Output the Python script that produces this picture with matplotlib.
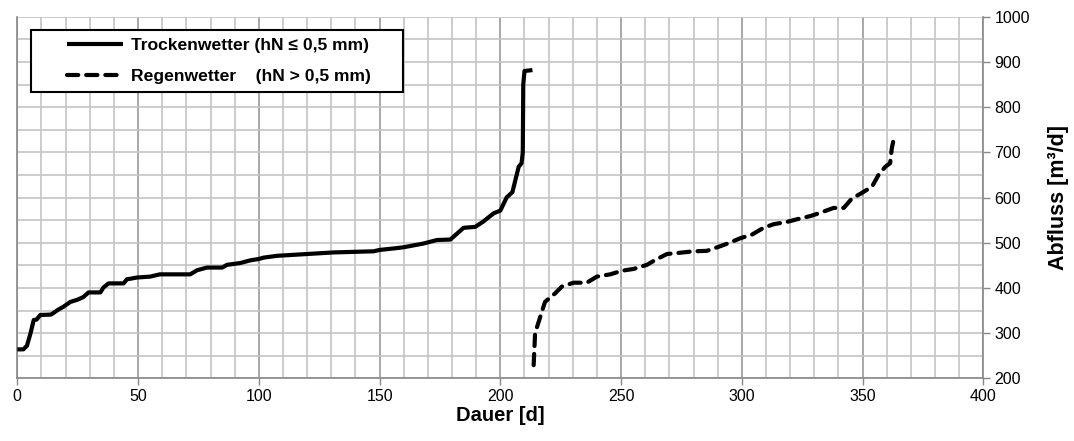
import matplotlib
matplotlib.use("Agg")
import matplotlib.pyplot as plt
from matplotlib.ticker import MultipleLocator
from matplotlib.legend_handler import HandlerLine2D

plt.rcParams['font.family'] = ['Liberation Sans', 'DejaVu Sans']

# Trockenwetter (dry weather) duration curve
dry_days = [0, 2.5, 4, 5.5, 6.8, 8, 9.5, 14, 17, 19, 22, 25, 27.4, 29.5, 34.4, 35.7,
            37.8, 44, 45.4, 49.6, 55, 59, 71.6, 74.4, 78.5, 84.8, 86.8, 92.3, 96.5,
            100, 102, 107.5, 120, 131, 147.5, 150, 157, 160, 168, 173.8, 179.3,
            184.8, 189.6, 193, 197.2, 200, 202.6, 205, 207.6, 208.8, 209.3, 209.5,
            210, 213.3]
dry_vals = [264, 264, 272, 300, 329, 330, 340, 341, 352, 358, 369, 374, 380, 390, 390,
            401, 410, 410, 419, 423, 425, 430, 430, 439, 445, 445, 451, 455, 461,
            464, 467, 471, 475, 478.5, 481, 484, 488, 490, 498, 506, 507,
            533, 535, 547, 565, 571, 600, 612, 668, 676, 700, 850, 880, 882]

# Regenwetter (wet weather) duration curve
wet_days = [213.8, 214.4, 217, 218.5, 222.7, 225.5, 230.3, 235.8, 240, 245.5, 250.4,
            255.2, 260.7, 264.2, 269, 273, 280, 285.5, 290.4, 294.5, 299.4, 304.2,
            309, 313.2, 318.7, 322.9, 328.4, 331.8, 338, 342.2, 345.6, 349, 353.9,
            356.6, 359.4, 361.4, 362.1, 363.1]
wet_vals = [229, 300, 344, 369, 388, 403, 411.5, 411.5, 425, 430, 438,
            442, 451, 462, 475, 477, 481, 482, 491, 499, 510, 518,
            533, 541, 546, 552, 559, 565, 577, 577, 598, 608, 624,
            650, 668, 676, 709, 735]

label_dry = "Trockenwetter (hN \u2264 0,5 mm)     "
label_wet = "Regenwetter    (hN > 0,5 mm)     "

fig = plt.figure(figsize=(10.74, 4.41), dpi=100)
ax = fig.add_axes([0.0161, 0.1422, 0.9156 - 0.0161, 0.962 - 0.1422])

l1, = ax.plot(dry_days, dry_vals, color='black', lw=3.0, solid_joinstyle='round',
              solid_capstyle='butt', label=label_dry, zorder=3)
l2, = ax.plot(wet_days, wet_vals, color='black', lw=3.0, linestyle=(0, (2.7, 1.9)),
              dash_capstyle='round', label=label_wet, zorder=3)

ax.set_xlim(0, 400)
ax.set_ylim(200, 1000)

ax.xaxis.set_major_locator(MultipleLocator(50))
ax.xaxis.set_minor_locator(MultipleLocator(10))
ax.yaxis.set_major_locator(MultipleLocator(100))
ax.yaxis.set_minor_locator(MultipleLocator(50))

ax.grid(which='minor', axis='both', color='#c4c4c4', lw=1.2, zorder=0)
ax.grid(which='major', axis='y', color='#c4c4c4', lw=1.2, zorder=0)
ax.grid(which='major', axis='x', color='#9a9a9a', lw=1.2, zorder=0)
ax.set_axisbelow(True)

ax.yaxis.tick_right()
ax.yaxis.set_label_position('right')
ax.tick_params(axis='both', which='major', labelsize=11.5, color='#888888',
               length=5, width=1.0, direction='out', pad=3)
ax.tick_params(axis='both', which='minor', length=0)
ax.tick_params(axis='y', which='major', left=False, right=True)

for s in ['left', 'right', 'bottom']:
    ax.spines[s].set_color('#888888')
    ax.spines[s].set_linewidth(1.2)
ax.spines['top'].set_visible(False)

ax.set_xlabel('Dauer [d]', fontsize=14.5, fontweight='bold', labelpad=1.5)
ax.set_ylabel('Abfluss [m\u00b3/d]', fontsize=15.5, fontweight='bold', labelpad=13)

hm = {l1: HandlerLine2D(xpad=1.6), l2: HandlerLine2D(xpad=1.6)}
leg = ax.legend(handles=[l1, l2], handler_map=hm, loc='upper left',
                bbox_to_anchor=(0.0142, 0.963), frameon=True,
                fancybox=False, edgecolor='black', framealpha=1,
                prop={'weight': 'bold', 'size': 12.6}, handlelength=4.8,
                handletextpad=0.45, borderpad=0.45, labelspacing=0.9,
                borderaxespad=0)
leg.get_frame().set_linewidth(1.5)

fig.savefig('out.png', dpi=100)
